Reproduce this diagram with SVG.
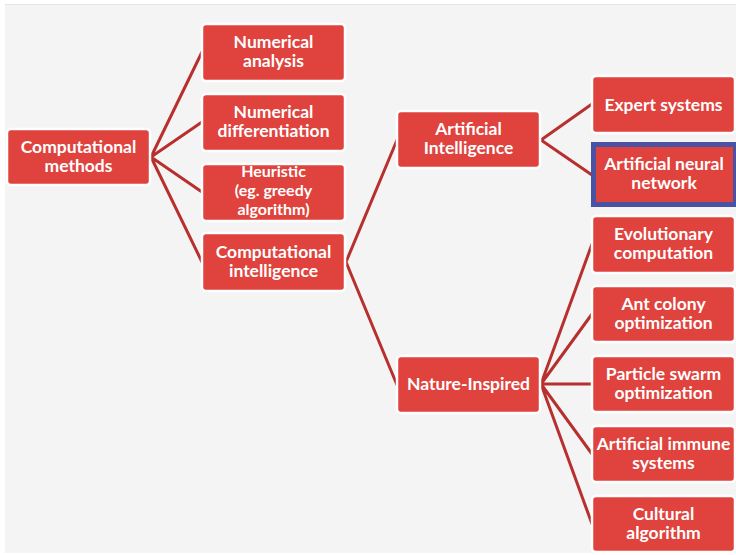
<svg xmlns="http://www.w3.org/2000/svg" width="736" height="555" viewBox="0 0 736 555">
<style>
.box{fill:#e0423d;stroke:#ffffff;stroke-width:2.5}
.t{font-family:Lato,"Open Sans","Liberation Sans",sans-serif;font-weight:bold;font-size:17.5px;fill:#ffffff;text-anchor:middle}
.s{font-size:16px}
.c{stroke:#b8302e;stroke-width:3;fill:none;stroke-linecap:round}
</style>
<rect x="0" y="0" width="736" height="555" fill="#ffffff"/>
<rect x="5" y="4" width="731" height="549" fill="#f4f4f4"/>
<line x1="5" y1="4.5" x2="736" y2="4.5" stroke="#e6e6e6" stroke-width="1"/>
<g id="connectors">
<path class="c" d="M151 157 L202 52 M151 157 L202 122 M151 157 L202 192 M151 157 L202 262"/>
<path class="c" d="M346 262 L397 140 M346 262 L397 385"/>
<path class="c" d="M541 140 L592 104 M541 140 L592 175"/>
<path class="c" d="M541 384 L592 244 M541 384 L592 314 M541 384 L592 384 M541 384 L592 454 M541 384 L592 524"/>
</g>
<g id="n-computational-methods"><rect class="box" x="7" y="129" width="143" height="56" rx="4"/><text class="t" x="78.5" y="153">Computational</text><text class="t" x="78.5" y="172">methods</text></g>
<g id="n-numerical-analysis"><rect class="box" x="202" y="24" width="143" height="57" rx="4"/><text class="t" x="273.5" y="48">Numerical</text><text class="t" x="273.5" y="67">analysis</text></g>
<g id="n-numerical-differentiation"><rect class="box" x="202" y="94" width="143" height="57" rx="4"/><text class="t" x="273.5" y="118">Numerical</text><text class="t" x="273.5" y="137">differentiation</text></g>
<g id="n-heuristic"><rect class="box" x="202" y="164" width="143" height="57" rx="4"/><text class="t s" x="273.5" y="177">Heuristic</text><text class="t s" x="273.5" y="196.2">(eg. greedy</text><text class="t s" x="273.5" y="215.4">algorithm)</text></g>
<g id="n-computational-intelligence"><rect class="box" x="202" y="233" width="143" height="58" rx="4"/><text class="t" x="273.5" y="258">Computational</text><text class="t" x="273.5" y="277">intelligence</text></g>
<g id="n-artificial-intelligence"><rect class="box" x="397" y="111" width="143" height="57" rx="4"/><text class="t" x="468.5" y="135">Artificial</text><text class="t" x="468.5" y="154">Intelligence</text></g>
<g id="n-nature-inspired"><rect class="box" x="397" y="356" width="143" height="57" rx="4"/><text class="t" x="468.5" y="390">Nature-Inspired</text></g>
<g id="n-expert-systems"><rect class="box" x="592" y="76" width="143" height="57" rx="4"/><text class="t" x="663.5" y="111">Expert systems</text></g>
<g id="n-artificial-neural-network"><rect x="593.5" y="144.5" width="141" height="60" fill="none" stroke="#4a52a3" stroke-width="5"/><rect x="596" y="147" width="137" height="55" fill="#e0423d"/><text class="t" x="664" y="170">Artificial neural</text><text class="t" x="664" y="189">network</text></g>
<g id="n-evolutionary-computation"><rect class="box" x="592" y="216" width="143" height="57" rx="4"/><text class="t" x="663.5" y="240">Evolutionary</text><text class="t" x="663.5" y="259">computation</text></g>
<g id="n-ant-colony"><rect class="box" x="592" y="286" width="143" height="56" rx="4"/><text class="t" x="663.5" y="310">Ant colony</text><text class="t" x="663.5" y="329">optimization</text></g>
<g id="n-particle-swarm"><rect class="box" x="592" y="356" width="143" height="56" rx="4"/><text class="t" x="663.5" y="380">Particle swarm</text><text class="t" x="663.5" y="399">optimization</text></g>
<g id="n-artificial-immune"><rect class="box" x="592" y="426" width="143" height="56" rx="4"/><text class="t" x="663.5" y="450">Artificial immune</text><text class="t" x="663.5" y="469">systems</text></g>
<g id="n-cultural-algorithm"><rect class="box" x="592" y="496" width="143" height="56" rx="4"/><text class="t" x="663.5" y="520">Cultural</text><text class="t" x="663.5" y="539">algorithm</text></g>
</svg>
